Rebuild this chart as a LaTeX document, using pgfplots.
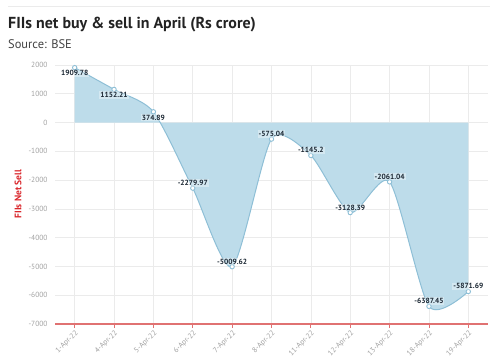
\documentclass[border=0pt]{standalone}
\usepackage{pgfplots}
\pgfplotsset{compat=1.18}
\usepackage{fontspec}
\setmainfont{PT Sans}
\definecolor{fillblue}{HTML}{BDDCEA}
\definecolor{lineblue}{HTML}{8EBFD6}
\definecolor{axisred}{HTML}{E07272}
\definecolor{labred}{HTML}{D9262B}
\definecolor{tickgrey}{HTML}{A0A0A0}
\definecolor{gridgrey}{HTML}{EBEBEB}
\definecolor{titlecol}{HTML}{222222}
\definecolor{labcol}{HTML}{1B2733}
\begin{document}
\begin{tikzpicture}
\path[use as bounding box] (0bp,0bp) rectangle (498bp,-360bp);
\draw[gridgrey, line width=0.8bp] (8bp,-6bp) -- (490bp,-6bp);
\node[anchor=base west, inner sep=0pt, text=titlecol, font=\bfseries\fontsize{16}{17}\selectfont] at (8bp,-28bp) {FIIs net buy \& sell in April (Rs crore)};
\node[anchor=base west, inner sep=0pt, text=titlecol!85, font=\fontsize{12.5}{13}\selectfont] at (8bp,-48bp) {Source: BSE};
\node[rotate=90, text=labred, font=\bfseries\fontsize{9.5}{10}\selectfont] at (18bp,-194bp) {FIIs Net Sell};
\begin{axis}[
  at={(55bp,-324bp)}, anchor=south west,
  scale only axis, width=433bp, height=259bp,
  xmin=-0.5, xmax=10.5, ymin=-7000, ymax=2000,
  ytick={-7000,-6000,-5000,-4000,-3000,-2000,-1000,0,1000,2000},
  yticklabels={-7000,-6000,-5000,-4000,-3000,-2000,-1000,0,1000,2000},
  xtick={0,1,2,3,4,5,6,7,8,9,10},
  xticklabels={1-Apr-22,4-Apr-22,5-Apr-22,6-Apr-22,7-Apr-22,8-Apr-22,11-Apr-22,12-Apr-22,13-Apr-22,18-Apr-22,19-Apr-22},
  yticklabel style={text=tickgrey, font=\fontsize{7.5}{8}\selectfont},
  xticklabel style={rotate=45, anchor=north east, text=tickgrey, font=\fontsize{7.5}{8}\selectfont, inner sep=1pt},
  axis x line=bottom, axis y line=left,
  axis line style={-},
  x axis line style={axisred, line width=1.5bp},
  y axis line style={draw=none},
  xtick style={axisred, line width=0.8bp},
  ytick style={draw=none},
  tick align=outside, major tick length=4bp,
  grid=major, major grid style={gridgrey, line width=0.6bp},
]
\addplot[fill=fillblue, draw=none, smooth, tension=0.42] coordinates {
(0,1909.78) (1,1152.21) (2,374.89) (3,-2279.97) (4,-5009.62) (5,-575.04) (6,-1145.2) (7,-3128.39) (8,-2061.04) (9,-6387.45) (10,-5871.69)} \closedcycle;
\addplot[smooth, tension=0.42, color=lineblue, line width=1bp] coordinates {
(0,1909.78) (1,1152.21) (2,374.89) (3,-2279.97) (4,-5009.62) (5,-575.04) (6,-1145.2) (7,-3128.39) (8,-2061.04) (9,-6387.45) (10,-5871.69)};
\addplot[only marks, mark=*, mark size=2.2bp, mark options={fill=white, draw=lineblue, line width=0.9bp},
  nodes near coords, point meta=explicit symbolic,
  nodes near coords style={anchor=north, yshift=-1.5bp, inner sep=1pt, fill=white, fill opacity=0.35, text opacity=1, text=labcol, font=\bfseries\fontsize{7.5}{8}\selectfont}]
  coordinates {(0,1909.78) [1909.78] (1,1152.21) [1152.21] (2,374.89) [374.89]};
\addplot[only marks, mark=*, mark size=2.2bp, mark options={fill=white, draw=lineblue, line width=0.9bp},
  nodes near coords, point meta=explicit symbolic,
  nodes near coords style={anchor=south, yshift=1bp, inner sep=1pt, fill=white, fill opacity=0.35, text opacity=1, text=labcol, font=\bfseries\fontsize{7.5}{8}\selectfont}]
  coordinates {(3,-2279.97) [-2279.97] (4,-5009.62) [-5009.62] (5,-575.04) [-575.04] (6,-1145.2) [-1145.2] (7,-3128.39) [-3128.39] (8,-2061.04) [-2061.04] (9,-6387.45) [-6387.45] (10,-5871.69) [-5871.69]};
\end{axis}
\end{tikzpicture}
\end{document}
